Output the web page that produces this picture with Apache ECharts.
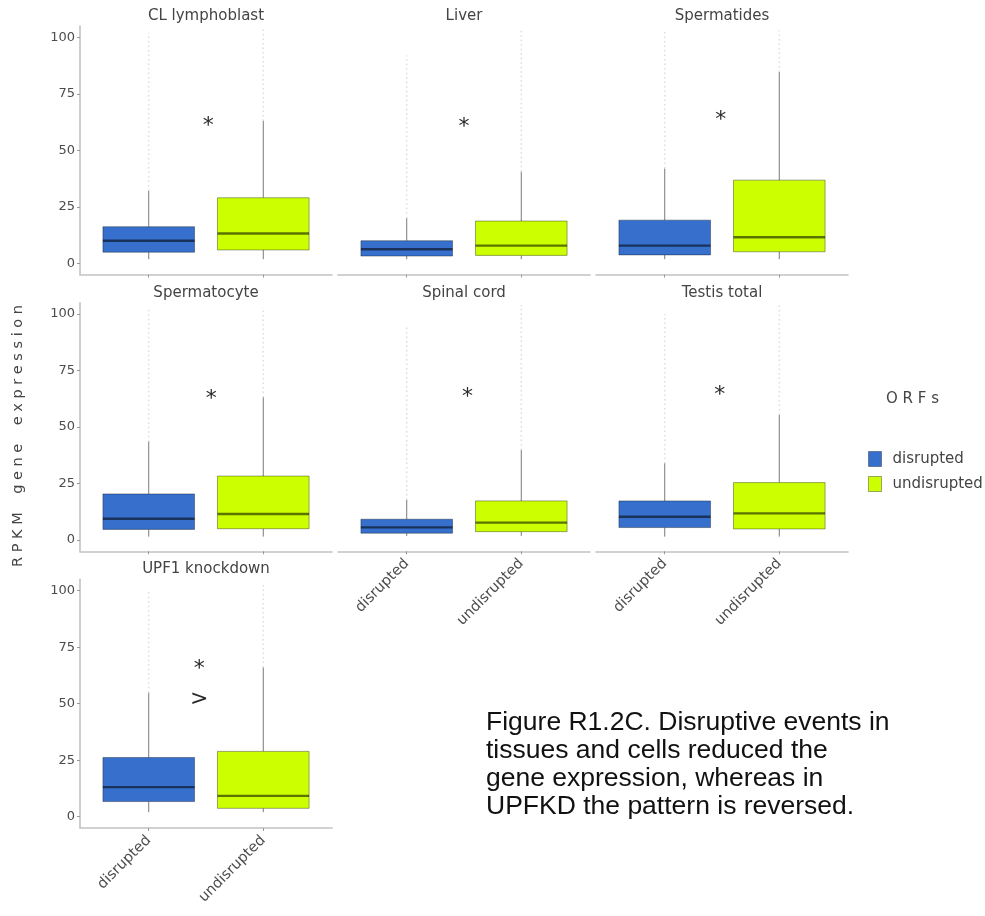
<!DOCTYPE html>
<html>
<head>
<meta charset="utf-8">
<title>RPKM gene expression by ORF disruption</title>
<script src="https://cdn.jsdelivr.net/npm/echarts@6/dist/echarts.min.js"></script>
<style>
  html, body { margin: 0; padding: 0; background: #ffffff; }
  #chart { width: 985px; height: 916px; }
</style>
</head>
<body>
<div id="chart"></div>
<script>
// Facet names, in reading order (3 per row)
const panelNames = ['CL lymphoblast', 'Liver', 'Spermatides', 'Spermatocyte', 'Spinal cord', 'Testis total', 'UPF1 knockdown'];
const groupNames = ['disrupted', 'undisrupted'];
const groupColors = ['#3670cc', '#ccff00'];

// Box summaries per facet: [lower whisker, Q1, median, Q3, upper whisker]
const disruptedStats = [
  [1.8, 4.9, 10.0, 16.2, 32.0],
  [1.8, 3.2, 6.2, 10.0, 19.9],
  [1.8, 3.7, 7.8, 19.1, 41.9],
  [1.5, 4.7, 9.4, 20.4, 43.5],
  [1.8, 3.0, 5.6, 9.2, 17.7],
  [1.5, 5.5, 10.3, 17.3, 33.9],
  [2.0, 6.7, 13.1, 26.2, 54.8]
];
const undisruptedStats = [
  [1.8, 5.9, 13.2, 29.0, 63.0],
  [1.8, 3.5, 7.8, 18.7, 40.5],
  [1.8, 5.1, 11.5, 36.8, 84.6],
  [1.5, 5.0, 11.5, 28.3, 63.1],
  [1.8, 3.7, 7.7, 17.3, 39.8],
  [1.5, 4.9, 11.8, 25.4, 55.3],
  [2.0, 3.7, 9.2, 28.9, 66.0]
];
// Highest outlier shown in each facet (outliers are dense, drawn as a faint streak)
const disruptedOutlierMax = [102, 92, 103, 103, 94, 100, 100];
const undisruptedOutlierMax = [104, 104, 103, 103, 104, 104, 104];

// Significance marks: facet index, x position (between groups), y value, glyph
const markPanel = [0, 1, 2, 3, 4, 5, 6, 6];
const markX = [1.52, 1.50, 1.49, 1.545, 1.53, 1.48, 1.44, 1.44];
const markY = [63.0, 62.2, 65.6, 64.6, 65.2, 66.4, 67.4, 51.9];
const markText = ['*', '*', '*', '*', '*', '*', '*', '>'];

const yTicks = [0, 25, 50, 75, 100];
const groupPositions = [1, 2];

const captionLines = [
  'Figure R1.2C. Disruptive events in',
  'tissues and cells reduced the',
  'gene expression, whereas in',
  'UPFKD the pattern is reversed.'
];

// ---- layout ----
const FONT = 'DejaVu Sans';
const colLeft = [80, 338, 596];
const rowTop = [26, 302.7, 579.4];
const gridW = 252;
const gridH = 248.6;
const axisGrey = '#c2c2c2';
const textGrey = '#4d4d4d';
const labelledX = [4, 5, 6]; // bottom facet of each column carries the group labels

const grids = [], xAxes = [], yAxes = [], titles = [], series = [];

// letter-spaced text: one space between letters, a wider gap between words
function spaced(str, gap) {
  return str.split(' ').map(w => w.split('').join(' ')).join(gap);
}

function boxRenderer(params, api) {
  const x = api.value(0);
  const lo = api.value(1), q1 = api.value(2), med = api.value(3), q3 = api.value(4), hi = api.value(5), top = api.value(6);
  const half = 0.4;
  const c = v => api.coord([x, v]);
  const tl = api.coord([x - half, q3]);
  const br = api.coord([x + half, q1]);
  const mL = api.coord([x - half, med]);
  const mR = api.coord([x + half, med]);
  const fill = api.visual('color');
  return {
    type: 'group',
    children: [
      { type: 'line', shape: { x1: c(hi)[0], y1: c(hi)[1], x2: c(top)[0], y2: c(top)[1] },
        style: { stroke: 'rgba(110,110,110,0.22)', lineWidth: 1.6, lineDash: [1.5, 3] } },
      { type: 'line', shape: { x1: c(lo)[0], y1: c(lo)[1], x2: c(q1)[0], y2: c(q1)[1] },
        style: { stroke: '#7a7a7a', lineWidth: 1 } },
      { type: 'line', shape: { x1: c(q3)[0], y1: c(q3)[1], x2: c(hi)[0], y2: c(hi)[1] },
        style: { stroke: '#7a7a7a', lineWidth: 1 } },
      { type: 'rect', shape: { x: tl[0], y: tl[1], width: br[0] - tl[0], height: br[1] - tl[1] },
        style: { fill: fill, stroke: 'rgba(0,0,0,0.35)', lineWidth: 1 } },
      { type: 'line', shape: { x1: mL[0], y1: mL[1], x2: mR[0], y2: mR[1] },
        style: { stroke: 'rgba(0,0,0,0.55)', lineWidth: 2.4 } }
    ]
  };
}

panelNames.forEach((name, p) => {
  const row = Math.floor(p / 3), col = p % 3;
  grids.push({ left: colLeft[col], top: rowTop[row], width: gridW, height: gridH });

  titles.push({
    text: name,
    left: colLeft[col] + gridW / 2,
    top: rowTop[row] - 17.5,
    textAlign: 'center',
    padding: 0,
    textStyle: { fontFamily: FONT, fontSize: 15, fontWeight: 'normal', color: '#444' }
  });

  const showX = labelledX.indexOf(p) >= 0;
  xAxes.push({
    gridIndex: p, type: 'value', min: 0.4, max: 2.6,
    axisLine: { show: true, onZero: false, lineStyle: { color: axisGrey, width: 1.6 } },
    axisTick: { show: true, customValues: groupPositions, length: 3, lineStyle: { color: '#999' } },
    axisLabel: {
      show: showX, customValues: groupPositions, rotate: 45, margin: 10,
      fontFamily: FONT, fontSize: 14.5, color: textGrey,
      formatter: v => groupNames[Math.round(v) - 1]
    },
    splitLine: { show: false }
  });

  const showY = col === 0;
  yAxes.push({
    gridIndex: p, type: 'value', min: -5, max: 105,
    axisLine: { show: showY, onZero: false, lineStyle: { color: axisGrey, width: 1.6 } },
    axisTick: { show: showY, customValues: yTicks, length: 3, lineStyle: { color: '#999' } },
    axisLabel: { show: showY, customValues: yTicks, margin: 5, fontFamily: FONT, fontSize: 13, color: textGrey },
    splitLine: { show: false }
  });

  [disruptedStats, undisruptedStats].forEach((stats, g) => {
    const outMax = g === 0 ? disruptedOutlierMax : undisruptedOutlierMax;
    series.push({
      type: 'custom',
      name: groupNames[g],
      xAxisIndex: p, yAxisIndex: p,
      itemStyle: { color: groupColors[g] },
      encode: { x: 0, y: [1, 2, 3, 4, 5, 6] },
      renderItem: boxRenderer,
      silent: true,
      data: [[groupPositions[g]].concat(stats[p], [outMax[p]])]
    });
  });

  const idx = [];
  markPanel.forEach((mp, i) => { if (mp === p) idx.push(i); });
  series.push({
    type: 'custom',
    xAxisIndex: p, yAxisIndex: p,
    silent: true,
    encode: { x: 0, y: 1 },
    data: idx.map(i => [markX[i], markY[i]]),
    renderItem: (params, api) => {
      const pt = api.coord([api.value(0), api.value(1)]);
      const txt = markText[idx[params.dataIndex]];
      const isStar = txt === '*';
      return {
        type: 'text', x: pt[0], y: pt[1] + (isStar ? 5 : 0),
        style: {
          text: txt, fill: '#2a2a2a',
          font: '22px "' + FONT + '"',
          align: 'center', verticalAlign: 'middle'
        }
      };
    }
  });
});

const option = {
  backgroundColor: '#ffffff',
  animation: false,
  title: titles,
  grid: grids,
  xAxis: xAxes,
  yAxis: yAxes,
  series: series,
  legend: {
    data: groupNames,
    orient: 'vertical',
    left: 863, top: 446,
    icon: 'rect',
    itemWidth: 13, itemHeight: 15, itemGap: 9,
    selectedMode: false,
    itemStyle: { borderColor: 'rgba(0,0,0,0.35)', borderWidth: 1 },
    textStyle: { fontFamily: FONT, fontSize: 15, color: '#444', padding: [0, 0, 0, 6] }
  },
  graphic: [
    {
      type: 'text', left: 886, top: 392,
      style: { text: spaced('ORFs', '   '), fontFamily: FONT, fontSize: 15, fill: '#444' }
    },
    {
      type: 'text', x: 18, y: 436, rotation: Math.PI / 2,
      style: {
        text: spaced('RPKM gene expression', '    '),
        fontFamily: FONT, fontSize: 14.5, fill: '#444',
        align: 'center', verticalAlign: 'middle'
      }
    },
    {
      type: 'text', left: 486, top: 709,
      style: {
        text: captionLines.join('\n'),
        fontFamily: 'Liberation Sans', fontSize: 26.5, lineHeight: 28, fill: '#111'
      }
    }
  ]
};

const chart = echarts.init(document.getElementById('chart'), null, { renderer: 'canvas' });
chart.setOption(option);
</script>
</body>
</html>
